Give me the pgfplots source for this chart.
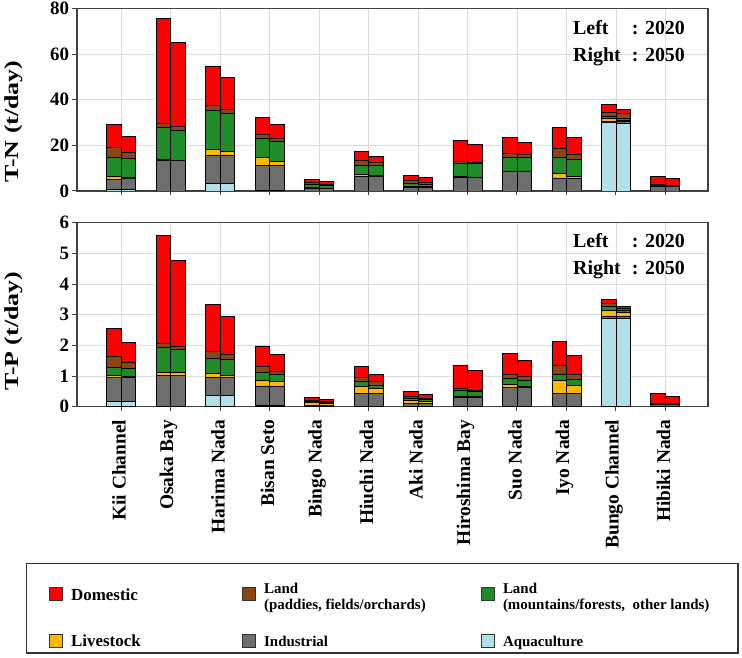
\documentclass[border=0pt]{standalone}
\usepackage{fontspec}
\setmainfont{Liberation Serif}
\usepackage{graphicx}
\usepackage{pgfplots}
\usepackage{pgfplotstable}
\pgfplotsset{compat=1.18}

\definecolor{cdom}{RGB}{255,0,0}
\definecolor{cpad}{RGB}{140,70,20}
\definecolor{cmtn}{RGB}{32,140,40}
\definecolor{clive}{RGB}{255,185,0}
\definecolor{cind}{RGB}{110,110,110}
\definecolor{caq}{RGB}{178,224,232}

\pgfplotstableread{
c s aq ind live mtn pad dom
0 -1 0.7 4.5 1.0 8.3 4.8 9.7
0 1 0.7 4.8 0.4 8.3 2.9 6.8
1 -1 0 13.2 0.6 14.2 1.7 45.8
1 1 0 13.2 0.3 13.0 1.8 36.6
2 -1 3.3 12.4 2.6 16.9 2.5 17.1
2 1 3.3 12.4 1.8 16.6 1.8 13.8
3 -1 0.2 11.1 3.2 8.7 1.4 7.7
3 1 0.2 11.1 1.7 8.7 1.5 5.9
4 -1 0 0.9 0.7 1.4 0.6 1.6
4 1 0 0.9 0.4 1.2 0.5 1.1
5 -1 0 6.2 1.2 3.9 2.2 3.9
5 1 0 6.2 0.8 4.0 1.3 2.9
6 -1 0 1.4 0.8 1.1 1.2 2.2
6 1 0 1.6 0.6 0.8 0.6 2.2
7 -1 0 5.9 0.3 5.8 0.8 9.4
7 1 0 5.9 0.2 5.9 0.5 7.8
8 -1 0 8.4 0.2 6.3 1.5 7.2
8 1 0 8.4 0.2 6.3 1.0 5.4
9 -1 0 5.5 2.2 6.8 4.1 9.2
9 1 0 5.5 1.0 7.3 2.1 7.7
10 -1 30.0 0.6 1.0 1.0 1.9 3.3
10 1 29.7 0.7 0.5 1.0 2.2 1.6
11 -1 0 2.0 0.2 0.3 0.2 3.8
11 1 0 1.9 0.1 0.2 0.1 3.2
}\TN

\pgfplotstableread{
c s aq ind live mtn pad dom
0 -1 0.16 0.79 0.06 0.26 0.36 0.92
0 1 0.16 0.79 0.03 0.27 0.20 0.65
1 -1 0 1.01 0.10 0.82 0.14 3.50
1 1 0 1.01 0.10 0.77 0.10 2.78
2 -1 0.38 0.58 0.11 0.51 0.21 1.55
2 1 0.38 0.58 0.07 0.51 0.17 1.22
3 -1 0.05 0.62 0.20 0.25 0.18 0.68
3 1 0.05 0.62 0.15 0.23 0.09 0.57
4 -1 0 0.05 0.08 0.03 0.04 0.10
4 1 0 0.05 0.06 0.02 0.03 0.08
5 -1 0 0.43 0.24 0.15 0.14 0.34
5 1 0 0.43 0.16 0.11 0.12 0.22
6 -1 0 0.11 0.11 0.05 0.08 0.16
6 1 0 0.11 0.07 0.06 0.04 0.13
7 -1 0 0.29 0.04 0.21 0.06 0.76
7 1 0 0.29 0.03 0.19 0.03 0.63
8 -1 0 0.63 0.08 0.21 0.13 0.69
8 1 0 0.63 0.02 0.22 0.11 0.52
9 -1 0.02 0.41 0.42 0.19 0.30 0.80
9 1 0.02 0.41 0.25 0.21 0.16 0.62
10 -1 2.88 0.05 0.22 0.11 0.11 0.13
10 1 2.88 0.05 0.15 0.07 0.06 0.07
11 -1 0 0.08 0.01 0.01 0.01 0.32
11 1 0 0.08 0.01 0.01 0.01 0.22
}\TP

\pgfplotsset{
  myax/.style={
    scale only axis, width=631bp, height=184bp,
    xmin=-0.89, xmax=11.86,
    ybar stacked, bar width=14.5bp, bar shift=0pt,
    xtick={0,...,11},
    grid=major, grid style={draw=black!14, line width=0.9bp},
    axis line style={draw=black!75, line width=1.3bp},
    tick align=outside, xtick pos=left, ytick pos=left,
    major tick length=4.5bp,
    tick style={draw=black!75, line width=1bp},
    /pgf/number format/assume math mode=true,
    yticklabel style={font=\fontsize{19}{19}\selectfont\bfseries},
    xticklabel style={yshift=-5bp, xshift=-2bp, rotate=90, anchor=east, font=\fontsize{19.5}{19.5}\selectfont\bfseries},
    ylabel style={font=\fontsize{20}{20}\selectfont\bfseries, anchor=center},
    every axis plot/.append style={draw=black, line width=0.9bp},
  },
}

\begin{document}
\begin{tikzpicture}
\path[use as bounding box] (0,0) rectangle (742bp,658bp);

% ---------- T-N ----------
\begin{axis}[myax, at={(77bp,467bp)}, anchor=south west, height=182.5bp,
  ymin=0, ymax=80, ytick={0,20,40,60,80},
  xticklabels={},
  ylabel={\scalebox{1.3}[1]{T-N (t/day)}},
  ylabel style={at={(axis description cs:-0.101,0.38)}},
]
\addplot[fill=caq] table[x expr=\thisrow{c}+0.1465*\thisrow{s}, y=aq] {\TN};
\addplot[fill=cind] table[x expr=\thisrow{c}+0.1465*\thisrow{s}, y=ind] {\TN};
\addplot[fill=clive] table[x expr=\thisrow{c}+0.1465*\thisrow{s}, y=live] {\TN};
\addplot[fill=cmtn] table[x expr=\thisrow{c}+0.1465*\thisrow{s}, y=mtn] {\TN};
\addplot[fill=cpad] table[x expr=\thisrow{c}+0.1465*\thisrow{s}, y=pad] {\TN};
\addplot[fill=cdom] table[x expr=\thisrow{c}+0.1465*\thisrow{s}, y=dom] {\TN};
\node[anchor=base west, inner sep=0pt, font=\fontsize{20}{27}\selectfont\bfseries]
  at (axis description cs:0.786,0.859)
  {\begin{tabular}[t]{@{}l@{\hspace{11bp}}l@{}}Left&: 2020\\Right&: 2050\end{tabular}};
\end{axis}

% ---------- T-P ----------
\begin{axis}[myax, at={(77bp,251.3bp)}, anchor=south west,
  ymin=0, ymax=6, ytick={0,1,2,3,4,5,6},
  xticklabels={Kii Channel, Osaka Bay, Harima Nada, Bisan Seto, Bingo Nada, Hiuchi Nada, Aki Nada, Hiroshima Bay, Suo Nada, Iyo Nada, Bungo Channel, Hibiki Nada},
  ylabel={\scalebox{1.3}[1]{T-P (t/day)}},
  ylabel style={at={(axis description cs:-0.101,0.41)}},
]
\addplot[fill=caq] table[x expr=\thisrow{c}+0.1465*\thisrow{s}, y=aq] {\TP};
\addplot[fill=cind] table[x expr=\thisrow{c}+0.1465*\thisrow{s}, y=ind] {\TP};
\addplot[fill=clive] table[x expr=\thisrow{c}+0.1465*\thisrow{s}, y=live] {\TP};
\addplot[fill=cmtn] table[x expr=\thisrow{c}+0.1465*\thisrow{s}, y=mtn] {\TP};
\addplot[fill=cpad] table[x expr=\thisrow{c}+0.1465*\thisrow{s}, y=pad] {\TP};
\addplot[fill=cdom] table[x expr=\thisrow{c}+0.1465*\thisrow{s}, y=dom] {\TP};
\node[anchor=base west, inner sep=0pt, font=\fontsize{20}{27}\selectfont\bfseries]
  at (axis description cs:0.786,0.8625)
  {\begin{tabular}[t]{@{}l@{\hspace{11bp}}l@{}}Left&: 2020\\Right&: 2050\end{tabular}};
\end{axis}

% ---------- Legend ----------
\begin{axis}[hide axis, scale only axis, width=714bp, height=93bp,
  at={(26bp,2bp)}, anchor=south west,
  xmin=0, xmax=1, ymin=0, ymax=1,
  legend columns=3,
  legend cell align=left,
  legend image code/.code={\draw[#1, line width=1bp, draw=black!80] (0bp,-0.5bp) rectangle (13bp,12.5bp);},
  legend style={at={(0,1)}, anchor=north west, draw=black!80, line width=1.3bp,
    inner xsep=22bp, inner ysep=3bp, row sep=29bp,
    cells={anchor=base west, inner sep=0pt},
    /tikz/every odd column/.append style={column sep=6.5bp},
    font=\bfseries},
]
\addlegendimage{fill=cdom}
\addlegendentry{\makebox[168.5bp][l]{\rule{0pt}{31.7bp}\fontsize{17}{17}\selectfont Domestic}}
\addlegendimage{fill=cpad}
\addlegendentry{\parbox[c]{214.4bp}{\fontsize{15}{15.5}\selectfont Land\\(paddies, fields/orchards)}}
\addlegendimage{fill=cmtn}
\addlegendentry{\parbox[c]{211bp}{\fontsize{15}{15.5}\selectfont Land\\(mountains/forests,\ \ other lands)}}
\addlegendimage{fill=clive}
\addlegendentry{\makebox[168.5bp][l]{\fontsize{17}{17}\selectfont Livestock}}
\addlegendimage{fill=cind}
\addlegendentry{\makebox[214.4bp][l]{\fontsize{15}{15.5}\selectfont Industrial}}
\addlegendimage{fill=caq}
\addlegendentry{\makebox[211bp][l]{\fontsize{15}{15.5}\selectfont Aquaculture}}
\end{axis}
\end{tikzpicture}
\end{document}
